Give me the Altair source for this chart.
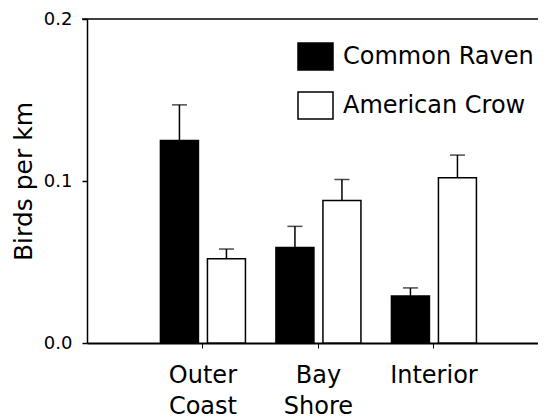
import altair as alt
import pandas as pd

sites = ["Outer Coast", "Bay Shore", "Interior"]
species = ["Common Raven", "American Crow"]
raven_mean = [0.125, 0.059, 0.029]
raven_se = [0.022, 0.013, 0.005]
crow_mean = [0.052, 0.088, 0.102]
crow_se = [0.006, 0.013, 0.014]
y_ticks = [0.0, 0.1, 0.2]

rows = []
for i, s in enumerate(sites):
    rows.append({"site": s, "species": species[0], "mean": raven_mean[i], "se": raven_se[i]})
    rows.append({"site": s, "species": species[1], "mean": crow_mean[i], "se": crow_se[i]})
df = pd.DataFrame(rows)

W, H = 451, 324
FONT = "DejaVu Sans"

x_enc = alt.X(
    "site:N", sort=sites,
    scale=alt.Scale(paddingInner=0.264, paddingOuter=0.5844, align=0.544),
    axis=alt.Axis(title=None, labelAngle=0, labelFont=FONT, labelFontSize=24,
                  labelColor="black", labelExpr="split(datum.label, ' ')",
                  labelBaseline="top", labelLineHeight=31, labelPadding=15,
                  labelLimit=0,
                  tickSize=5, tickColor="black", tickWidth=1,
                  domainColor="black", domainWidth=2),
)
xo_enc = alt.XOffset("species:N", sort=species,
                     scale=alt.Scale(paddingInner=0.1915, paddingOuter=0))

y_scale = alt.Scale(domain=[0, 0.2], nice=False, zero=True)

base = alt.Chart(df).transform_calculate(upper="datum.mean + datum.se").encode(
    x=x_enc, xOffset=xo_enc)

bars = base.mark_bar(stroke="black", strokeWidth=1.5).encode(
    y=alt.Y("mean:Q", scale=y_scale,
            axis=alt.Axis(title="Birds per km", values=y_ticks, format=".1f",
                          labelFont=FONT, labelFontSize=18, labelColor="black",
                          labelPadding=10, tickSize=5, tickColor="black", tickWidth=1.5,
                          domainColor="black", domainWidth=1.5, grid=False,
                          titleFont=FONT, titleFontSize=25, titleFontWeight="normal",
                          titleColor="black", titleX=-56, titleBaseline="alphabetic")),
    fill=alt.Fill("species:N", sort=species,
                  scale=alt.Scale(domain=species, range=["#000000", "#ffffff"]),
                  legend=alt.Legend(title=None, orient="none", legendX=210, legendY=19,
                                    direction="vertical",
                                    symbolType="M-1,-0.77H1V0.77H-1Z", symbolSize=1225,
                                    symbolStrokeColor="black", symbolStrokeWidth=1.5,
                                    symbolOpacity=1, labelLimit=0,
                                    labelFont=FONT, labelFontSize=24, labelColor="black",
                                    labelOffset=9, rowPadding=14, padding=0)),
)

err = base.mark_rule(color="black", strokeWidth=1.5).encode(
    y=alt.Y("mean:Q", scale=y_scale), y2="upper:Q")
cap = base.mark_tick(color="black", thickness=1.5, size=15, orient="horizontal").encode(
    y=alt.Y("upper:Q", scale=y_scale))

top_line = alt.Chart(pd.DataFrame({"v": [0.2]})).mark_rule(color="black", strokeWidth=1.5).encode(
    y=alt.Y("v:Q", scale=y_scale), x=alt.value(-5), x2=alt.value(W))

chart = alt.layer(bars, err, cap, top_line).properties(
    width=W, height=H,
    autosize=alt.AutoSizeParams(type="none"),
    padding={"left": 79, "top": 11, "right": 0, "bottom": 80},
).configure_view(stroke=None)

chart.save("out.html", embed_options={"renderer": "svg", "actions": False})
